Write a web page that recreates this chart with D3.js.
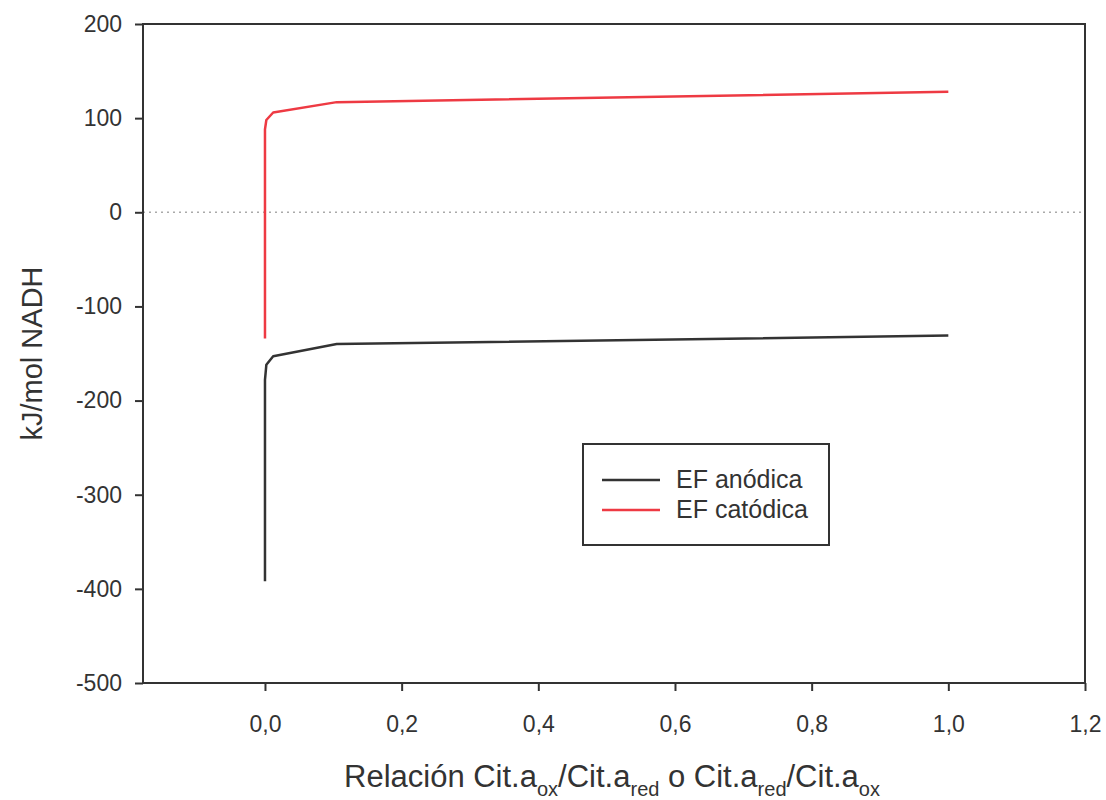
<!DOCTYPE html>
<html>
<head>
<meta charset="utf-8">
<script src="https://d3js.org/d3.v7.min.js"></script>
<style>
  body { margin: 0; background: #fff; }
  text { font-family: "Liberation Sans", Arial, sans-serif; fill: #333; }
</style>
</head>
<body>
<svg width="1106" height="800"></svg>
<script>
// datos
var xAnodica = [0, 0, 0.002, 0.012, 0.105, 1.0];
var yAnodica = [-392, -178, -162, -153, -140, -131];
var xCatodica = [0, 0, 0.002, 0.012, 0.105, 1.0];
var yCatodica = [-134, 88, 98, 106, 117, 128];
var series = ["EF anódica", "EF catódica"];
var colores = ["#333333", "#ee3a43"];
var xTicks = [0, 0.2, 0.4, 0.6, 0.8, 1.0, 1.2];
var yTicks = [200, 100, 0, -100, -200, -300, -400, -500];

var svg = d3.select("svg");
var marge = {top: 24, left: 143, right: 21, bottom: 117};
var w = 1106 - marge.left - marge.right;
var h = 800 - marge.top - marge.bottom;
var g = svg.append("g").attr("transform", "translate(" + marge.left + "," + marge.top + ")");

var xScale = d3.scaleLinear().domain([-0.1785, 1.2]).range([0, w]);
var yScale = d3.scaleLinear().domain([-500, 200]).range([h, 0]);

var fmtX = function (d) { return d3.format(".1f")(d).replace(".", ","); };
var fmtY = function (d) { return String(d); };  // guion normal, no signo menos

// linea de cero punteada
g.append("line")
  .attr("x1", 0).attr("x2", w)
  .attr("y1", yScale(0)).attr("y2", yScale(0))
  .attr("stroke", "#aaa").attr("stroke-width", 1.5)
  .attr("stroke-dasharray", "2,4");

// marco
g.append("rect").attr("width", w).attr("height", h)
  .attr("fill", "none").attr("stroke", "#333").attr("stroke-width", 2);

var xAxis = d3.axisBottom(xScale).tickValues(xTicks).tickFormat(fmtX).tickSize(8).tickSizeOuter(0);
var yAxis = d3.axisLeft(yScale).tickValues(yTicks).tickFormat(fmtY).tickSize(8).tickSizeOuter(0);

var gx = g.append("g").attr("transform", "translate(0," + h + ")").call(xAxis);
var gy = g.append("g").call(yAxis);
[gx, gy].forEach(function (a) {
  a.select(".domain").remove();
  a.selectAll(".tick line").attr("stroke", "#333").attr("stroke-width", 2);
  a.selectAll(".tick text").attr("font-size", 23).attr("fill", "#333")
    .style("font-family", "'Liberation Sans', Arial, sans-serif");
});
gx.selectAll(".tick text").attr("y", 49).attr("dy", 0);
gy.selectAll(".tick text").attr("x", -21);

// curvas
var line = d3.line()
  .x(function (d) { return xScale(d[0]); })
  .y(function (d) { return yScale(d[1]); });

var datos = [d3.zip(xAnodica, yAnodica), d3.zip(xCatodica, yCatodica)];
g.selectAll(".curva").data(datos).enter().append("path")
  .attr("class", "curva")
  .attr("d", line)
  .attr("fill", "none")
  .attr("stroke", function (d, i) { return colores[i]; })
  .attr("stroke-width", 2.5)
  .attr("stroke-linejoin", "round");

// leyenda
var lg = svg.append("g").attr("transform", "translate(583,444)");
lg.append("rect").attr("width", 246).attr("height", 101)
  .attr("fill", "#fff").attr("stroke", "#333").attr("stroke-width", 2);
series.forEach(function (s, i) {
  var yy = 36 + i * 30;
  lg.append("line").attr("x1", 19).attr("x2", 77).attr("y1", yy).attr("y2", yy)
    .attr("stroke", colores[i]).attr("stroke-width", 2.5);
  lg.append("text").attr("x", 93).attr("y", yy + 8).attr("font-size", 25).text(s);
});

// titulos de ejes
svg.append("text")
  .attr("transform", "translate(42," + (marge.top + h / 2) + ") rotate(-90)")
  .attr("text-anchor", "middle").attr("font-size", 29)
  .text("kJ/mol NADH");

var xl = svg.append("text")
  .attr("x", 612).attr("y", 787)
  .attr("text-anchor", "middle").attr("font-size", 31);
xl.append("tspan").text("Relación Cit.a");
xl.append("tspan").attr("dy", 9).attr("font-size", 20).text("ox");
xl.append("tspan").attr("dy", -9).text("/Cit.a");
xl.append("tspan").attr("dy", 9).attr("font-size", 20).text("red");
xl.append("tspan").attr("dy", -9).text(" o Cit.a");
xl.append("tspan").attr("dy", 9).attr("font-size", 20).text("red");
xl.append("tspan").attr("dy", -9).text("/Cit.a");
xl.append("tspan").attr("dy", 9).attr("font-size", 20).text("ox");
</script>
</body>
</html>
